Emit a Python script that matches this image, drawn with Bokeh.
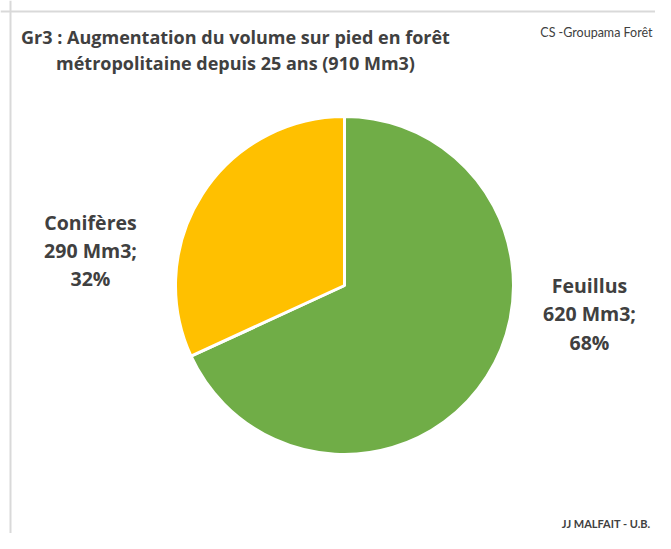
import numpy as np
from bokeh.plotting import figure
from bokeh.models import Range1d, Label, Span
from bokeh.embed import file_html
from bokeh.resources import INLINE

categories = ["Feuillus", "Conifères"]
volumes = [620, 290]          # Mm3
percents = [68, 32]
colors = ["#70AD47", "#FFC000"]

W, H = 655, 533
p = figure(width=W, height=H, output_backend="svg", toolbar_location=None,
           x_range=Range1d(0, W), y_range=Range1d(-H, 0), min_border=0)
p.axis.visible = False
p.grid.visible = False
p.outline_line_color = None
p.background_fill_color = "white"
p.border_fill_color = "white"

# data coords: x = pixel x, y = -pixel y
p.add_layout(Span(location=10, dimension="height", line_color="#d9d9d9", line_width=2))
p.add_layout(Span(location=-11, dimension="width", line_color="#d9d9d9", line_width=2))

cx, cy, r = 344, -285, 169
fr = np.array(volumes, dtype=float) / sum(volumes)
cum = np.concatenate([[0], np.cumsum(fr)])
start_clock = np.pi / 2 - cum[1:] * 2 * np.pi
end_clock = np.pi / 2 - cum[:-1] * 2 * np.pi
p.wedge(x=[cx] * len(volumes), y=[cy] * len(volumes), radius=r,
        start_angle=list(start_clock), end_angle=list(end_clock),
        fill_color=colors, line_color="white", line_width=3)

txt = "#404040"
font = "Open Sans"

def lab(x, y, t, size, style="bold", align="left", col=txt, f=font):
    p.add_layout(Label(x=x, y=-y, text=t,
                       text_font=f, text_font_size=size, text_font_style=style,
                       text_color=col, text_align=align, text_baseline="alphabetic"))

lab(235, 36, "Gr3 : Augmentation du volume sur pied en forêt", "18px", align="center")
lab(235, 62, "métropolitaine depuis 25 ans (910 Mm3)", "18px", align="center")
lab(652, 32, "CS -Groupama Forêt", "12.5px", style="normal", align="right", f="Lato")
lab(650, 523, "JJ MALFAIT - U.B.", "11px", style="bold", align="right", f="Lato")

label_pos = {"Conifères": (90, [222, 250, 278]), "Feuillus": (589, [285, 313, 342])}
for c, v, pc in zip(categories, volumes, percents):
    x, ys = label_pos[c]
    for line, yy in zip([c, f"{v} Mm3;", f"{pc}%"], ys):
        lab(x, yy, line, "19.5px", align="center")

open("out.html", "w").write(file_html(p, INLINE))
